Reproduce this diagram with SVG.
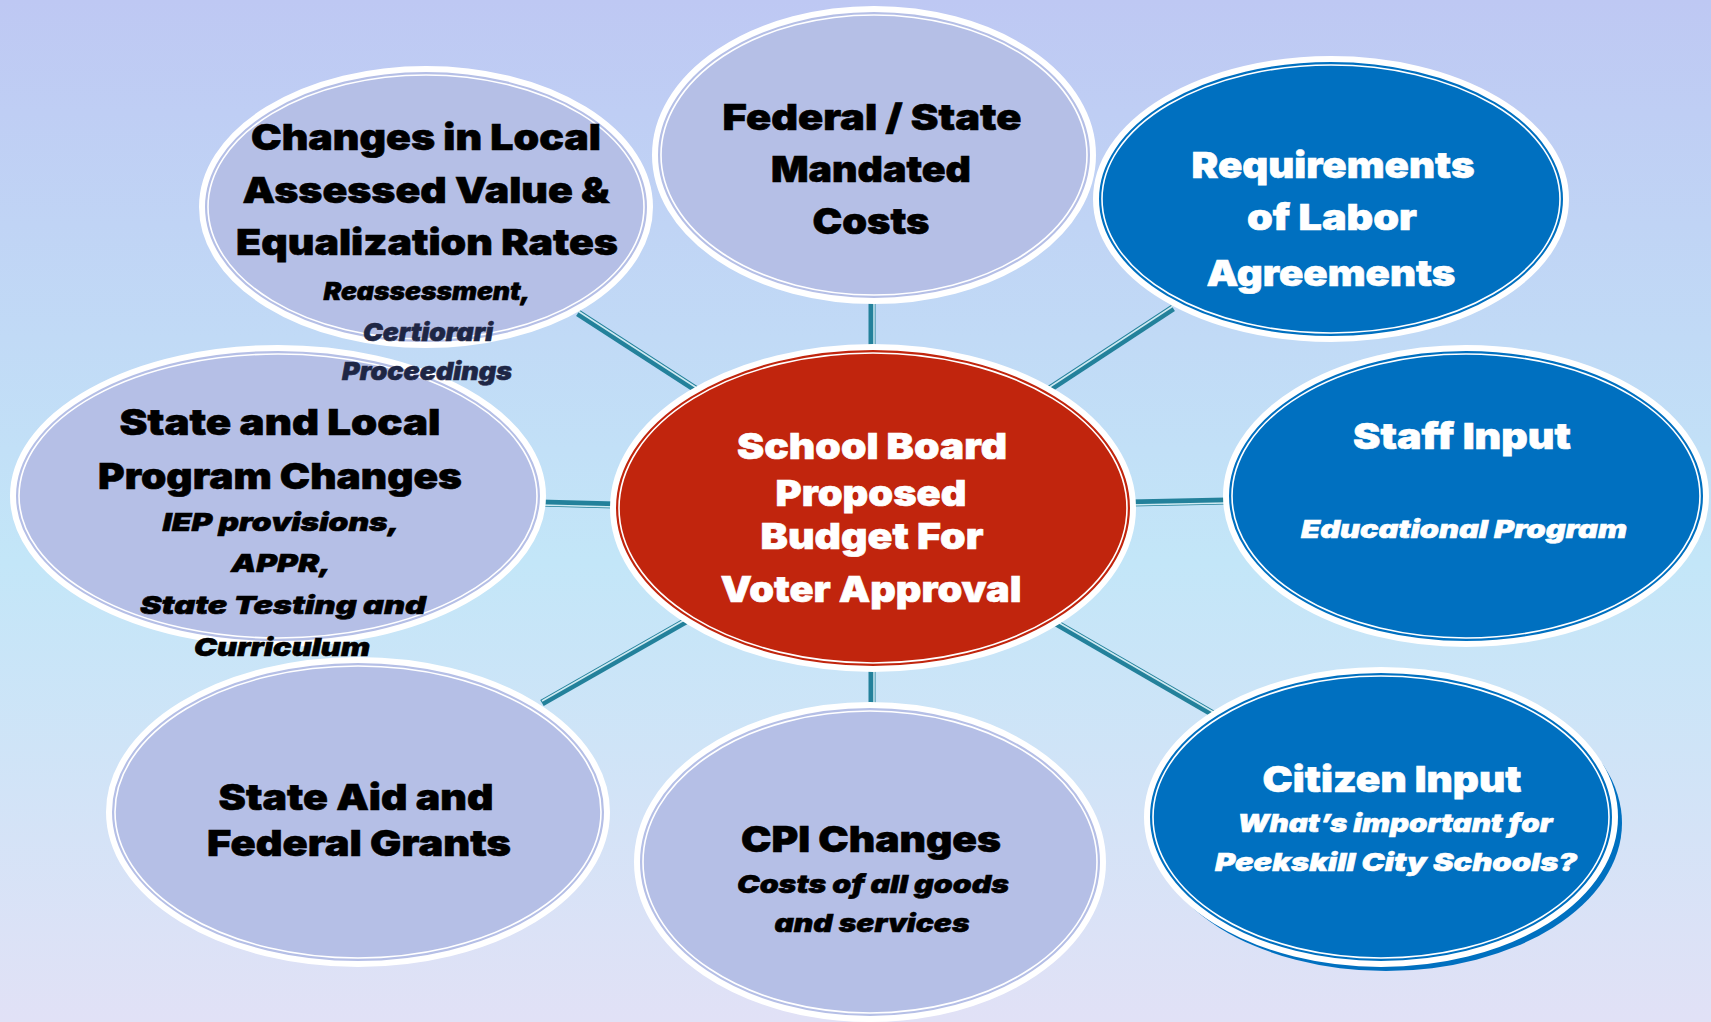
<svg xmlns="http://www.w3.org/2000/svg" width="1711" height="1022" viewBox="0 0 1711 1022">
  <defs>
    <linearGradient id="bg" x1="0" y1="0" x2="0" y2="1">
      <stop offset="0" stop-color="#BEC8F3"/>
      <stop offset="0.55" stop-color="#C3E6F8"/>
      <stop offset="1" stop-color="#E1E1F6"/>
    </linearGradient>
    <style>
      .ring { stroke: #FFFFFF; stroke-width: 6; }
      .inner { fill: none; stroke: #FFFFFF; stroke-width: 1.6; }
      .lav { fill: #B5BFE6; }
      .blue { fill: #0070C0; }
      .red { fill: #C1250D; }
      .t { font-family: Inter, "DejaVu Sans", "Liberation Sans", sans-serif; font-weight: 900; text-anchor: middle; lengthAdjust: spacingAndGlyphs; }
      .big { font-size: 36px; }
      .sub { font-size: 25px; font-style: italic; }
      .dk { fill: #000000; stroke: #000000; stroke-width: 0.6; }
      .nv { fill: #1E2645; stroke: #1E2645; stroke-width: 0.6; }
      .wh { fill: #FFFFFF; stroke: #FFFFFF; stroke-width: 0.6; }
      .link { stroke: #23819B; stroke-width: 7; fill: none; }
      .linkHi { stroke: #CFEAF2; stroke-width: 1.5; fill: none; }
    </style>
  </defs>

  <rect width="1711" height="1022" fill="url(#bg)"/>

  <!-- spokes from the central budget node -->
  <g id="connectors">
    <line class="link" x1="578" y1="313" x2="700" y2="392"/>
    <line class="link" x1="872" y1="300" x2="872" y2="350"/>
    <line class="link" x1="1173" y1="308" x2="1045" y2="392"/>
    <line class="link" x1="540" y1="503" x2="616" y2="505"/>
    <line class="link" x1="1130" y1="503" x2="1226" y2="501"/>
    <line class="link" x1="542" y1="703" x2="686" y2="621"/>
    <line class="link" x1="872" y1="665" x2="872" y2="707"/>
    <line class="link" x1="1056" y1="623" x2="1215" y2="715"/>
    <line class="link" x1="1385" y1="668" x2="1385" y2="676"/>
    <line class="linkHi" x1="578" y1="311" x2="700" y2="390"/>
    <line class="linkHi" x1="874" y1="300" x2="874" y2="350"/>
    <line class="linkHi" x1="1173" y1="306" x2="1045" y2="390"/>
    <line class="linkHi" x1="540" y1="505" x2="616" y2="507"/>
    <line class="linkHi" x1="1130" y1="505" x2="1226" y2="503"/>
    <line class="linkHi" x1="542" y1="701" x2="686" y2="619"/>
    <line class="linkHi" x1="874" y1="665" x2="874" y2="707"/>
    <line class="linkHi" x1="1056" y1="621" x2="1215" y2="713"/>
  </g>

  <g id="node-state-aid">
    <ellipse class="lav ring" cx="358" cy="812" rx="249" ry="152"/>
    <ellipse class="inner" cx="358" cy="812" rx="243" ry="146"/>
    <text class="t big dk" x="356" y="810" textLength="275" lengthAdjust="spacingAndGlyphs">State Aid and</text>
    <text class="t big dk" x="359" y="856" textLength="304" lengthAdjust="spacingAndGlyphs">Federal Grants</text>
  </g>

  <g id="node-program-changes">
    <ellipse class="lav ring" cx="278" cy="496" rx="265" ry="148"/>
    <ellipse class="inner" cx="278" cy="496" rx="259" ry="142"/>
    <text class="t big dk" x="280" y="435" textLength="321" lengthAdjust="spacingAndGlyphs">State and Local</text>
    <text class="t big dk" x="280" y="489" textLength="364" lengthAdjust="spacingAndGlyphs">Program Changes</text>
    <text class="t sub dk" x="281" y="531" textLength="237" lengthAdjust="spacingAndGlyphs">IEP provisions,</text>
    <text class="t sub dk" x="281" y="572" textLength="100" lengthAdjust="spacingAndGlyphs">APPR,</text>
    <text class="t sub dk" x="283" y="614" textLength="286" lengthAdjust="spacingAndGlyphs">State Testing and</text>
    <text class="t sub dk" x="282" y="656" textLength="176" lengthAdjust="spacingAndGlyphs">Curriculum</text>
  </g>

  <g id="node-assessed-value">
    <ellipse class="lav ring" cx="426" cy="207" rx="224" ry="138"/>
    <ellipse class="inner" cx="426" cy="207" rx="218" ry="132"/>
    <text class="t big dk" x="426" y="150" textLength="350" lengthAdjust="spacingAndGlyphs">Changes in Local</text>
    <text class="t big dk" x="426" y="203" textLength="367" lengthAdjust="spacingAndGlyphs">Assessed Value &amp;</text>
    <text class="t big dk" x="427" y="255" textLength="382" lengthAdjust="spacingAndGlyphs">Equalization Rates</text>
    <text class="t sub dk" x="427" y="300" textLength="207" lengthAdjust="spacingAndGlyphs">Reassessment,</text>
    <text class="t sub nv" x="428" y="341" textLength="130" lengthAdjust="spacingAndGlyphs">Certiorari</text>
    <text class="t sub nv" x="427" y="380" textLength="170" lengthAdjust="spacingAndGlyphs">Proceedings</text>
  </g>

  <g id="node-mandated-costs">
    <ellipse class="lav ring" cx="874" cy="155" rx="219" ry="146"/>
    <ellipse class="inner" cx="874" cy="155" rx="213" ry="140"/>
    <text class="t big dk" x="872" y="130" textLength="299" lengthAdjust="spacingAndGlyphs">Federal / State</text>
    <text class="t big dk" x="871" y="182" textLength="200" lengthAdjust="spacingAndGlyphs">Mandated</text>
    <text class="t big dk" x="871" y="234" textLength="117" lengthAdjust="spacingAndGlyphs">Costs</text>
  </g>

  <g id="node-labor-agreements">
    <ellipse class="blue ring" cx="1331" cy="199" rx="235" ry="140"/>
    <ellipse class="inner" cx="1331" cy="199" rx="229" ry="134"/>
    <text class="t big wh" x="1333" y="178" textLength="283" lengthAdjust="spacingAndGlyphs">Requirements</text>
    <text class="t big wh" x="1332" y="230" textLength="170" lengthAdjust="spacingAndGlyphs">of Labor</text>
    <text class="t big wh" x="1331" y="286" textLength="249" lengthAdjust="spacingAndGlyphs">Agreements</text>
  </g>

  <g id="node-staff-input">
    <ellipse class="blue ring" cx="1466" cy="496" rx="240" ry="148"/>
    <ellipse class="inner" cx="1466" cy="496" rx="234" ry="142"/>
    <text class="t big wh" x="1462" y="449" textLength="218" lengthAdjust="spacingAndGlyphs">Staff Input</text>
    <text class="t sub wh" x="1464" y="538" textLength="326" lengthAdjust="spacingAndGlyphs">Educational Program</text>
  </g>

  <g id="node-cpi-changes">
    <ellipse class="lav ring" cx="870" cy="862" rx="233" ry="157"/>
    <ellipse class="inner" cx="870" cy="862" rx="227" ry="151"/>
    <text class="t big dk" x="871" y="852" textLength="260" lengthAdjust="spacingAndGlyphs">CPI Changes</text>
    <text class="t sub dk" x="873" y="893" textLength="272" lengthAdjust="spacingAndGlyphs">Costs of all goods</text>
    <text class="t sub dk" x="872" y="932" textLength="195" lengthAdjust="spacingAndGlyphs">and services</text>
  </g>

  <g id="node-citizen-input">
    <ellipse fill="#0070C0" cx="1386" cy="823" rx="236" ry="148"/>
    <ellipse class="blue ring" cx="1381" cy="817" rx="234" ry="147"/>
    <ellipse class="inner" cx="1381" cy="817" rx="228" ry="141"/>
    <text class="t big wh" x="1392" y="792" textLength="259" lengthAdjust="spacingAndGlyphs">Citizen Input</text>
    <text class="t sub wh" x="1395" y="832" textLength="315" lengthAdjust="spacingAndGlyphs">What’s important for</text>
    <text class="t sub wh" x="1396" y="871" textLength="362" lengthAdjust="spacingAndGlyphs">Peekskill City Schools?</text>
  </g>

  <g id="node-proposed-budget">
    <ellipse class="red ring" cx="873" cy="508" rx="260" ry="161"/>
    <ellipse class="inner" cx="873" cy="508" rx="254" ry="155"/>
    <text class="t big wh" x="872" y="459" textLength="270" lengthAdjust="spacingAndGlyphs">School Board</text>
    <text class="t big wh" x="871" y="506" textLength="191" lengthAdjust="spacingAndGlyphs">Proposed</text>
    <text class="t big wh" x="872" y="549" textLength="223" lengthAdjust="spacingAndGlyphs">Budget For</text>
    <text class="t big wh" x="871" y="602" textLength="301" lengthAdjust="spacingAndGlyphs">Voter Approval</text>
  </g>
</svg>
